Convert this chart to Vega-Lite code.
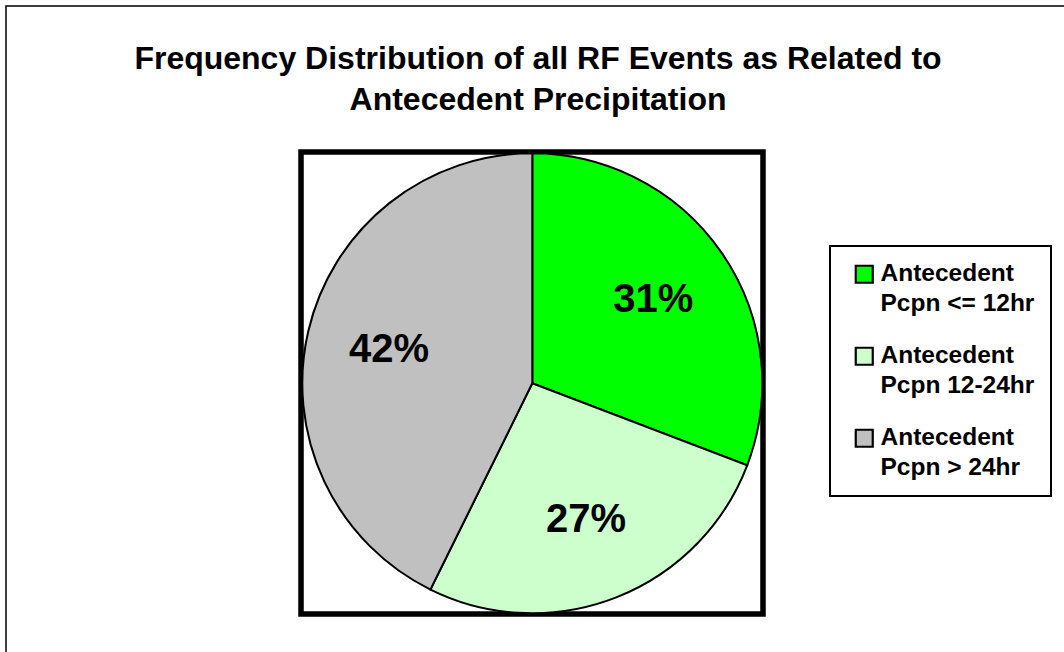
{
  "$schema": "https://vega.github.io/schema/vega-lite/v6.json",
  "width": 1062,
  "height": 650,
  "autosize": {"type": "none"},
  "padding": {"left": 6, "top": 6, "right": -4, "bottom": -4},
  "background": "white",
  "view": {"stroke": "#000000", "strokeWidth": 1.5},
  "config": {"font": "Liberation Sans"},
  "title": {
    "text": ["Frequency Distribution of all RF Events as Related to", "Antecedent Precipitation"],
    "fontSize": 32,
    "fontWeight": "bold",
    "font": "Liberation Sans",
    "color": "#000000",
    "lineHeight": 41,
    "anchor": "middle",
    "offset": -111,
    "dx": 1
  },
  "data": {
    "values": [
      {"category": "Antecedent Pcpn <= 12hr", "share": 30.8, "pct": "31%", "k": 1},
      {"category": "Antecedent Pcpn 12-24hr", "share": 26.5, "pct": "27%", "k": 2},
      {"category": "Antecedent Pcpn > 24hr", "share": 42.7, "pct": "42%", "k": 3}
    ]
  },
  "layer": [
    {
      "data": {"values": [{}]},
      "mark": {"type": "rect", "filled": false, "stroke": "#000000", "strokeWidth": 5.5},
      "encoding": {
        "x": {"datum": 295, "type": "quantitative", "scale": {"domain": [0, 1062], "nice": false, "zero": false}, "axis": null},
        "x2": {"datum": 757},
        "y": {"datum": 146, "type": "quantitative", "scale": {"domain": [0, 650], "nice": false, "zero": false, "reverse": true}, "axis": null},
        "y2": {"datum": 608}
      }
    },
    {
      "mark": {"type": "arc", "radius": 230, "stroke": "#000000", "strokeWidth": 2},
      "encoding": {
        "theta": {"field": "share", "type": "quantitative", "stack": true},
        "order": {"field": "k"},
        "x": {"datum": 526.3, "type": "quantitative"},
        "y": {"datum": 377.3, "type": "quantitative"},
        "color": {
          "field": "category",
          "type": "nominal",
          "sort": ["Antecedent Pcpn <= 12hr", "Antecedent Pcpn 12-24hr", "Antecedent Pcpn > 24hr"],
          "scale": {
            "domain": ["Antecedent Pcpn <= 12hr", "Antecedent Pcpn 12-24hr", "Antecedent Pcpn > 24hr"],
            "range": ["#00FF00", "#CCFFCC", "#C0C0C0"]
          },
          "legend": {
            "orient": "none",
            "legendX": 824,
            "legendY": 240,
            "title": null,
            "direction": "vertical",
            "strokeColor": "#000000",
            "fillColor": "#FFFFFF",
            "padding": 16,
            "rowPadding": 27,
            "symbolType": "square",
            "symbolSize": 289,
            "symbolStrokeColor": "#000000",
            "symbolStrokeWidth": 2.2,
            "symbolOpacity": 1,
            "symbolOffset": 6,
            "labelFontSize": 24.5,
            "labelFont": "Liberation Sans",
            "labelFontWeight": "bold",
            "labelColor": "#000000",
            "labelOffset": 4,
            "labelLimit": 0,
            "labelBaseline": "middle",
            "labelExpr": "['Antecedent', slice(datum.label, 11)]",
            "encode": {
              "legend": {"update": {"strokeWidth": {"value": 2}}},
              "labels": {"update": {"lineHeight": {"value": 30}}}
            }
          }
        }
      }
    },
    {
      "mark": {"type": "text", "radius": 147, "fontSize": 40, "fontWeight": "bold", "font": "Liberation Sans", "color": "#000000", "baseline": "middle", "align": "center"},
      "encoding": {
        "theta": {"field": "share", "type": "quantitative", "stack": true},
        "order": {"field": "k"},
        "x": {"datum": 526.3, "type": "quantitative"},
        "y": {"datum": 377.3, "type": "quantitative"},
        "text": {"field": "pct"}
      }
    }
  ]
}
